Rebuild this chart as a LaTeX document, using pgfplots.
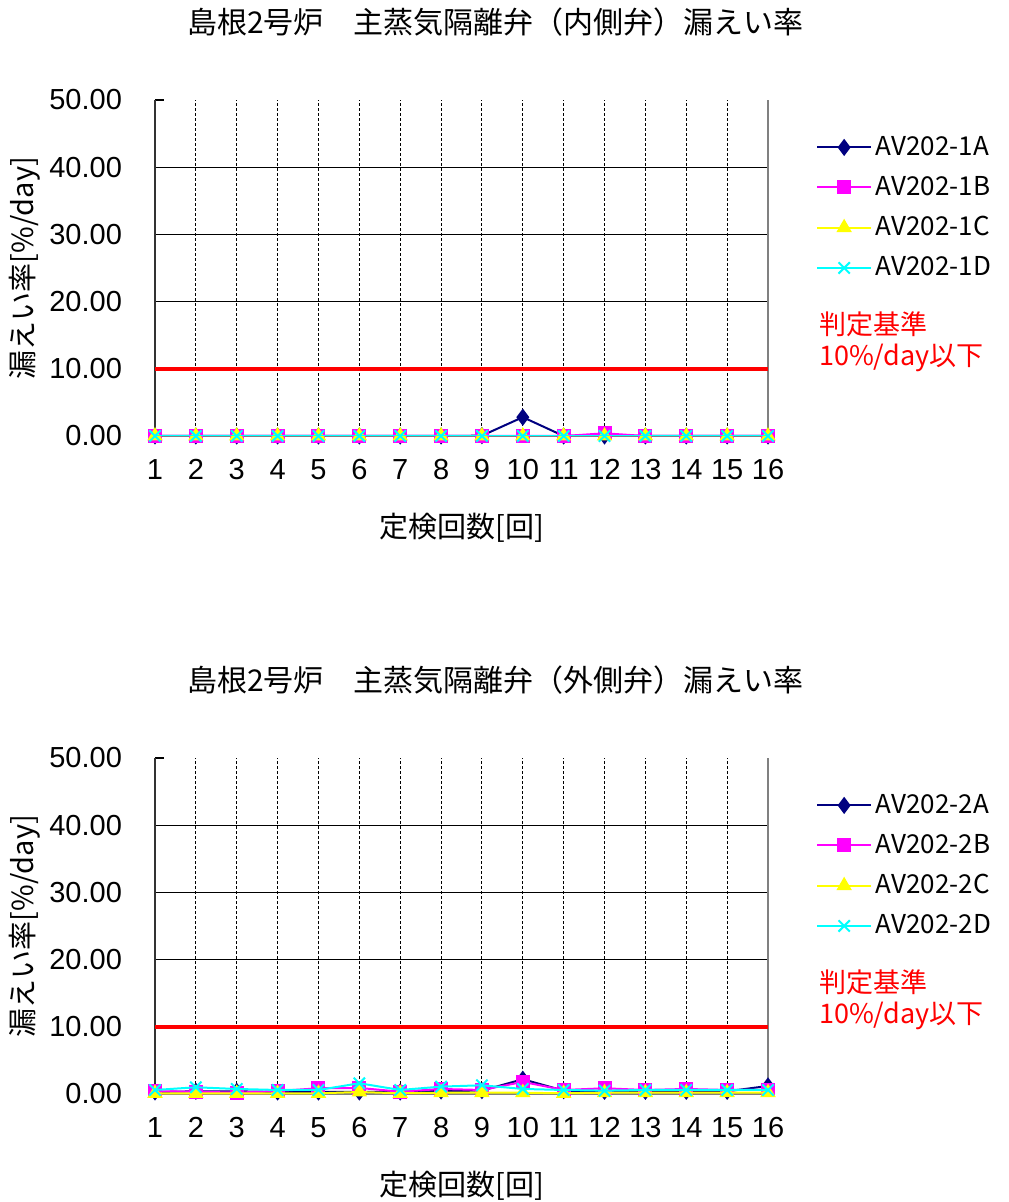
\documentclass[border=0pt]{standalone}
\usepackage{fontspec}
\setmainfont{Liberation Sans}
\newfontfamily\cjk{Noto Sans CJK JP}
\usepackage{pgfplots}
\pgfplotsset{compat=1.18}

\definecolor{cA}{RGB}{0,0,128}
\definecolor{cB}{RGB}{255,0,255}
\definecolor{cC}{RGB}{255,255,0}
\definecolor{cD}{RGB}{0,255,255}

\pgfplotsset{
  valve/.style={
    scale only axis, width=306.5pt, height=168pt,
    xmin=1, xmax=16, ymin=0, ymax=50,
    xtick={1,...,16}, ytick={0,10,...,40},
    extra y ticks={50}, extra y tick style={grid=none},
    ytick pos=left,
    clip mode=individual,
    axis line style={draw=none},
    xtick style={draw=none},
    ytick style={black, line width=0.6pt},
    tick align=inside,
    xmajorgrids, ymajorgrids,
    x grid style={black, line width=0.5pt, dash pattern=on 1.5pt off 1pt},
    y grid style={black, line width=0.6pt},
    /pgf/number format/assume math mode=true,
    tick label style={font=\fontsize{14.5}{16}\selectfont},
    yticklabel={\pgfmathprintnumber[fixed,fixed zerofill,precision=2]{\tick}},
    yticklabel style={xshift=-13pt},
    xticklabel style={yshift=-8pt},
    every axis title/.style={at={(rel axis cs:0.5,1)}, xshift=17pt, yshift=39pt, anchor=center,
      font=\cjk\fontsize{15}{17}\selectfont},
    every axis x label/.style={at={(rel axis cs:0.5,0)}, yshift=-46pt, anchor=center,
      font=\cjk\fontsize{14.5}{16}\selectfont},
    every axis y label/.style={at={(rel axis cs:0,0.5)}, xshift=-65pt, rotate=90, anchor=center,
      font=\cjk\fontsize{14.5}{16}\selectfont},
    xlabel={定検回数[回]},
    ylabel={漏えい率[\%/day]},
    legend style={at={(rel axis cs:1,1)}, anchor=north west, xshift=21pt, yshift=-14pt,
      draw=none, fill=none, font=\cjk\fontsize{13}{15}\selectfont, row sep=5pt},
    legend cell align=left,
    legend image code/.code={\draw[mark repeat=2, mark phase=2, #1]
      plot coordinates {(0cm,0cm) (0.47cm,0cm) (0.94cm,0cm)};},
    every axis plot/.append style={line width=1pt},
  },
  sA/.style={cA, mark=diamond*, mark size=3.5pt, mark options={solid}},
  sB/.style={cB, mark=square*, mark size=3pt},
  sC/.style={cC, mark=triangle*, mark size=3.5pt},
  sD/.style={cD, mark=x, mark size=4pt},
}

\newcommand{\chartframe}{%
  \draw[gray, line width=1pt] (rel axis cs:0,0) -- (rel axis cs:1,0);
  \draw[black!80, line width=0.9pt] (rel axis cs:0,0) -- (rel axis cs:0,1);
  \draw[gray, line width=1.1pt] (rel axis cs:1,0) -- (rel axis cs:1,1);
  \addplot[red, line width=2pt, forget plot] coordinates {(1,10) (16,10)};
  \node[anchor=west, align=left, text=red, font=\cjk\fontsize{13.5}{15.5}\selectfont]
    at (rel axis cs:1,0.28) [xshift=22pt] {判定基準\\10\%/day以下};
}

\begin{document}
\begin{tikzpicture}
\begin{axis}[valve, at={(0,0)}, anchor=south west,
  title={島根2号炉　主蒸気隔離弁（内側弁）漏えい率}]
\chartframe
\addplot[sA] coordinates {(1,0)(2,0)(3,0)(4,0)(5,0)(6,0)(7,0)(8,0)(9,0.05)(10,2.8)(11,0)(12,0)(13,0)(14,0)(15,0)(16,0)};
\addplot[sB] coordinates {(1,0)(2,0)(3,0)(4,0)(5,0)(6,0)(7,0)(8,0)(9,0)(10,0)(11,0)(12,0.4)(13,0)(14,0)(15,0)(16,0)};
\addplot[sC] coordinates {(1,0)(2,0)(3,0)(4,0)(5,0)(6,0)(7,0)(8,0)(9,0)(10,0)(11,0)(12,0)(13,0)(14,0)(15,0)(16,0)};
\addplot[sD] coordinates {(1,0)(2,0)(3,0)(4,0)(5,0)(6,0)(7,0)(8,0)(9,0)(10,0)(11,0)(12,0)(13,0)(14,0)(15,0)(16,0)};
\legend{AV202-1A,AV202-1B,AV202-1C,AV202-1D}
\end{axis}

\begin{axis}[valve, at={(0,-329pt)}, anchor=south west,
  title={島根2号炉　主蒸気隔離弁（外側弁）漏えい率}]
\chartframe
\addplot[sA] coordinates {(1,0.3)(2,0.4)(3,0.4)(4,0.3)(5,0.3)(6,0.3)(7,0.3)(8,0.45)(9,0.5)(10,2.2)(11,0.5)(12,0.4)(13,0.4)(14,0.4)(15,0.4)(16,1.2)};
\addplot[sB] coordinates {(1,0.4)(2,0.35)(3,0.2)(4,0.45)(5,0.85)(6,0.9)(7,0.35)(8,0.75)(9,0.6)(10,1.8)(11,0.6)(12,0.85)(13,0.6)(14,0.75)(15,0.6)(16,0.6)};
\addplot[sC] coordinates {(1,0.1)(2,0.1)(3,0.1)(4,0.1)(5,0.1)(6,0.3)(7,0.1)(8,0.2)(9,0.2)(10,0.2)(11,0.1)(12,0.2)(13,0.2)(14,0.2)(15,0.2)(16,0.2)};
\addplot[sD] coordinates {(1,0.6)(2,1.0)(3,0.75)(4,0.6)(5,0.6)(6,1.6)(7,0.6)(8,1.1)(9,1.3)(10,0.75)(11,0.6)(12,0.5)(13,0.6)(14,0.6)(15,0.6)(16,0.6)};
\legend{AV202-2A,AV202-2B,AV202-2C,AV202-2D}
\end{axis}

\pgfresetboundingbox
\path (-77.5pt,218pt) rectangle (426.5pt,-383pt);
\end{tikzpicture}
\end{document}
